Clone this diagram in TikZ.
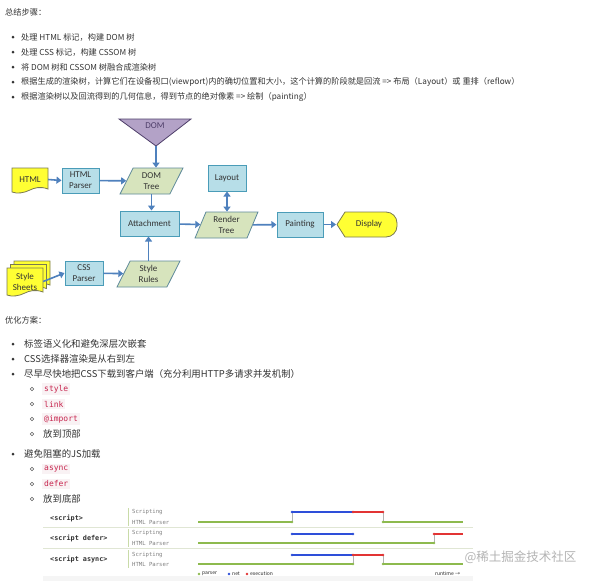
\documentclass[tikz,border=0pt]{standalone}
\usepackage{fontspec}
\setmainfont{Noto Sans CJK SC}
\newfontfamily\flowfont{Carlito}
\newfontfamily\codefont{DejaVu Sans Mono}
\usetikzlibrary{shapes.geometric,arrows.meta}
\definecolor{txt}{HTML}{333333}
\definecolor{boxfill}{HTML}{B7DEE8}
\definecolor{boxline}{HTML}{4A9CB8}
\definecolor{parafill}{HTML}{D7E4BD}
\definecolor{paraline}{HTML}{5E8A9A}
\definecolor{docfill}{HTML}{FFFF33}
\definecolor{docline}{HTML}{7A7A50}
\definecolor{domfill}{HTML}{B3A2C7}
\definecolor{domline}{HTML}{4F3F6A}
\definecolor{arrowc}{HTML}{4F81BD}
\definecolor{codered}{HTML}{C7254E}
\definecolor{codebg}{HTML}{F9F2F4}
\definecolor{tlgreen}{HTML}{8DBA4E}
\definecolor{tlblue}{HTML}{2E4FD9}
\definecolor{tlred}{HTML}{E23434}
\definecolor{rowline}{HTML}{E0E6D4}
\definecolor{sepline}{HTML}{C9DBA8}
\definecolor{wm}{HTML}{B4B4B4}
\begin{document}
\begin{tikzpicture}[x=1pt,y=-1pt,
  body/.style={anchor=west,inner sep=0pt,text=txt,font=\fontsize{8.2}{10}\selectfont},
  bodyb/.style={anchor=west,inner sep=0pt,text=txt,font=\fontsize{9.4}{11}\selectfont},
  bul/.style={circle,fill=txt,inner sep=0pt,minimum size=3pt},
  subbul/.style={circle,draw=txt!80,line width=0.6pt,inner sep=0pt,minimum size=3.5pt},
  code/.style={anchor=west,fill=codebg,text=codered,inner xsep=2pt,inner ysep=2pt,font=\codefont\fontsize{8}{9}\selectfont},
  flowtxt/.style={inner sep=0pt,align=center,text=txt,font=\flowfont\fontsize{9}{11}\selectfont},
  bluebox/.style={flowtxt,rectangle,draw=boxline,fill=boxfill,line width=1pt},
  para/.style={flowtxt,trapezium,trapezium left angle=68,trapezium right angle=112,trapezium stretches=true,draw=paraline,fill=parafill,line width=0.8pt,minimum width=63pt,minimum height=26pt},
  doc/.style={draw=docline,fill=docfill,line width=0.8pt},
  arr/.style={draw=arrowc,line width=1.6pt,-{Triangle[width=7pt,length=5pt]}},
  dbl/.style={draw=arrowc,line width=1.6pt,{Triangle[width=7pt,length=5pt]}-{Triangle[width=7pt,length=5pt]}},
  tllabel/.style={anchor=west,inner sep=0pt,text=txt,font=\codefont\bfseries\fontsize{6.8}{8}\selectfont},
  tlsmall/.style={anchor=west,inner sep=0pt,text=black!50,font=\codefont\fontsize{5.6}{7}\selectfont},
  tiny/.style={anchor=west,inner sep=0pt,text=black!85,font=\fontsize{5}{6}\selectfont},
  tl/.style={line width=1.2pt},
  tick/.style={draw=black!30,line width=0.4pt}
]
\useasboundingbox (0,0) rectangle (593,581);
\fill[white] (0,0) rectangle (593,581);

% ---------- section 1 ----------
\node[body] (h1) at (5,12) {总结步骤：};
\node[bul] (b1) at (13,37) {}; \node[body] (t1) at (21,37) {处理 HTML 标记，构建 DOM 树};
\node[bul] (b2) at (13,52) {}; \node[body] (t2) at (21,52) {处理 CSS 标记，构建 CSSOM 树};
\node[bul] (b3) at (13,67) {}; \node[body] (t3) at (21,67) {将 DOM 树和 CSSOM 树融合成渲染树};
\node[bul] (b4) at (13,82) {}; \node[body] (t4) at (21,82) {根据生成的渲染树，计算它们在设备视口(viewport)内的确切位置和大小，这个计算的阶段就是回流 => 布局（Layout）或 重排（reflow）};
\node[bul] (b5) at (13,97) {}; \node[body] (t5) at (21,97) {根据渲染树以及回流得到的几何信息，得到节点的绝对像素 => 绘制（painting）};

% ---------- flowchart ----------
\filldraw[fill=domfill,draw=domline,line width=0.8pt] (119,119) -- (191,119) -- (156,146) -- cycle;
\node[flowtxt,text=domline] (dom) at (155,126) {DOM};
\coordinate (domapex) at (156,146);

\filldraw[doc] (12,168) -- (48,168) -- (48,189) .. controls (40,186) and (34,188) .. (30,190) .. controls (24,193) and (17,194) .. (12,192) -- cycle;
\node[flowtxt,minimum width=36pt,minimum height=22pt] (html) at (30,179.5) {HTML};

\foreach \dx/\dy in {7/-7,3.5/-3.5,0/0}{
  \begin{scope}[shift={(7+\dx,268+\dy)}]
    \filldraw[doc] (0,0) -- (36,0) -- (36,24) .. controls (28,21) and (22,23) .. (18,25) .. controls (12,28) and (5,29) .. (0,27) -- cycle;
  \end{scope}
}
\node[flowtxt,minimum width=36pt,minimum height=24pt] (sheets) at (25,281.5) {Style\\Sheets};

\node[bluebox,minimum width=37pt,minimum height=25pt] (htmlp) at (80.5,180.5) {HTML\\Parser};
\node[para] (domtree) at (151.5,181) {DOM\\Tree};
\node[bluebox,minimum width=38pt,minimum height=26pt] (layout) at (227,178) {Layout};
\node[bluebox,minimum width=59pt,minimum height=25pt] (attach) at (149.5,223.5) {Attachment};
\node[para] (render) at (226.5,225) {Render\\Tree};
\node[bluebox,minimum width=46pt,minimum height=25pt] (paint) at (300,224.5) {Painting};
\node[bluebox,minimum width=38pt,minimum height=24pt] (cssp) at (84,273) {CSS\\Parser};
\node[para] (rules) at (148.5,274) {Style\\Rules};

\filldraw[doc] (337,224.5) -- (345,212) [rounded corners=11pt] -- (397,212) -- (397,237) [sharp corners] -- (345,237) -- cycle;
\node[flowtxt] (display) at (369,224.5) {Display};
\coordinate (disptip) at (336,224.5);

\draw[arr] (html.east) -- (htmlp.west);
\draw[arr] (htmlp) -- (domtree);
\draw[arr] (domapex) -- (domapex |- domtree.north);
\draw[arr] (domtree.south) -- (domtree.south |- attach.north);
\draw[arr] (rules.north) -- (rules.north |- attach.south);
\draw[arr] (attach) -- (render);
\draw[dbl] (layout.south) -- (layout.south |- render.north);
\draw[arr] (render) -- (paint);
\draw[arr] (paint.east) -- (disptip);
\draw[arr] (sheets.east) -- (cssp.west);
\draw[arr] (cssp) -- (rules);

% ---------- section 2 ----------
\node[body] (h2) at (5,320) {优化方案：};
\node[bul] (c1) at (13,344) {}; \node[bodyb] (u1) at (24,344) {标签语义化和避免深层次嵌套};
\node[bul] (c2) at (13,359) {}; \node[bodyb] (u2) at (24,359) {CSS选择器渲染是从右到左};
\node[bul] (c3) at (13,374) {}; \node[bodyb] (u3) at (24,374) {尽早尽快地把CSS下载到客户端（充分利用HTTP多请求并发机制）};
\node[subbul] (d1) at (32,389) {}; \node[code] (v1) at (42,389) {style};
\node[subbul] (d2) at (32,404) {}; \node[code] (v2) at (42,404) {link};
\node[subbul] (d3) at (32,419) {}; \node[code] (v3) at (42,419) {@import};
\node[subbul] (d4) at (32,434) {}; \node[bodyb] (v4) at (43,434) {放到顶部};
\node[bul] (c4) at (13,454) {}; \node[bodyb] (u4) at (24,454) {避免阻塞的JS加载};
\node[subbul] (e1) at (32,469) {}; \node[code] (w1) at (42,469) {async};
\node[subbul] (e2) at (32,484) {}; \node[code] (w2) at (42,484) {defer};
\node[subbul] (e3) at (32,499) {}; \node[bodyb] (w3) at (43,499) {放到底部};

% ---------- timeline ----------
\fill[black!4] (43,576) rectangle (473,581);
\draw[rowline,line width=0.8pt] (43,527) -- (473,527);
\draw[rowline,line width=0.8pt] (43,548) -- (473,548);
\draw[sepline,line width=0.8pt] (128,508) -- (128,526);
\draw[sepline,line width=0.8pt] (128,529) -- (128,547);
\draw[sepline,line width=0.8pt] (128,550) -- (128,568);

\node[tllabel] (s1) at (50,518) {<script>};
\node[tllabel] (s2) at (50,538) {<script defer>};
\node[tllabel] (s3) at (50,559) {<script async>};
\node[tlsmall] (k1) at (132,512) {Scripting};
\node[tlsmall] (p1) at (132,522) {HTML Parser};
\node[tlsmall] (k2) at (132,533) {Scripting};
\node[tlsmall] (p2) at (132,543) {HTML Parser};
\node[tlsmall] (k3) at (132,555) {Scripting};
\node[tlsmall] (p3) at (132,564) {HTML Parser};

% row 1
\draw[tick] (292,512) -- (292,522); \draw[tick] (383,512) -- (383,522);
\draw[tl,tlgreen] (198,522) -- (292,522); \draw[tl,tlgreen] (383,522) -- (463,522);
\draw[tl,tlblue] (292,512) -- (353,512);
\draw[tl,tlred] (353,512) -- (383,512);
\fill[tlblue] (292,512) circle (1.4); \fill[tlred] (353,512) circle (1.4); \fill[tlred] (383,512) circle (1.4);
\fill[tlgreen] (292,522) circle (1.4); \fill[tlgreen] (383,522) circle (1.4);
% row 2
\draw[tick] (434,534) -- (434,543);
\draw[tl,tlgreen] (198,543) -- (434,543);
\draw[tl,tlblue] (292,534) -- (353,534);
\draw[tl,tlred] (434,534) -- (463,534);
\fill[tlblue] (292,534) circle (1.4); \fill[tlblue] (353,534) circle (1.4); \fill[tlred] (434,534) circle (1.4);
\fill[tlgreen] (434,543) circle (1.4);
% row 3
\draw[tick] (353,555) -- (353,564); \draw[tick] (383,555) -- (383,564);
\draw[tl,tlgreen] (198,564) -- (353,564); \draw[tl,tlgreen] (383,564) -- (463,564);
\draw[tl,tlblue] (292,555) -- (353,555);
\draw[tl,tlred] (353,555) -- (383,555);
\fill[tlblue] (292,555) circle (1.4); \fill[tlred] (353,555) circle (1.4); \fill[tlred] (383,555) circle (1.4);
\fill[tlgreen] (353,564) circle (1.4); \fill[tlgreen] (383,564) circle (1.4);

% legend
\node[circle,fill=tlgreen,inner sep=0pt,minimum size=2.6pt] (lg1) at (199,574) {};
\node[tiny] (lt1) at (202,574) {parser};
\node[circle,fill=tlblue,inner sep=0pt,minimum size=2.6pt] (lg2) at (229,574) {};
\node[tiny] (lt2) at (232,574) {net};
\node[circle,fill=tlred,inner sep=0pt,minimum size=2.6pt] (lg3) at (247,574) {};
\node[tiny] (lt3) at (250,574) {execution};
\node[tiny] (rt) at (435,574) {runtime →};

% watermark
\node[inner sep=0pt,text=wm,font=\fontsize{12.5}{14}\selectfont] (wmark) at (520.5,557) {@稀土掘金技术社区};
\end{tikzpicture}
\end{document}
